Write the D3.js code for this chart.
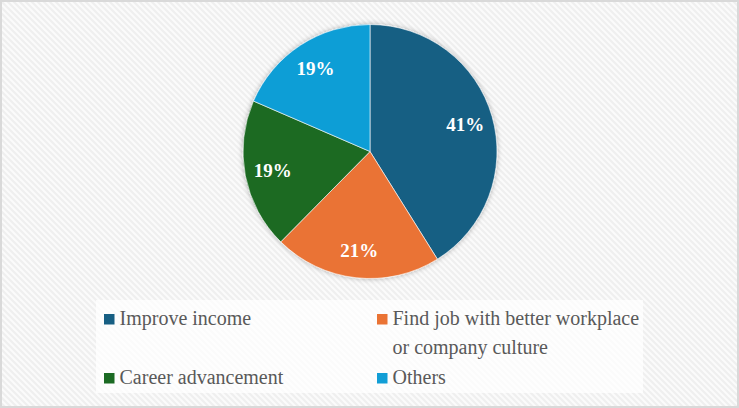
<!DOCTYPE html>
<html>
<head>
<meta charset="utf-8">
<script src="https://cdn.jsdelivr.net/npm/d3@7/dist/d3.min.js"></script>
<style>
  html, body { margin: 0; padding: 0; background: #ffffff; }
  svg { display: block; }
</style>
</head>
<body>
<svg id="chart" width="739" height="408"></svg>
<script>
// ---- data ----
const categories = ["Improve income", "Find job with better workplace or company culture", "Career advancement", "Others"];
const legendLines = [["Improve income"], ["Find job with better workplace", "or company culture"], ["Career advancement"], ["Others"]];
const values = [41.1, 21.3, 19.1, 18.5];
const labels = ["41%", "21%", "19%", "19%"];
const colors = ["#175f83", "#ea7334", "#1b6a23", "#119ed6"];

const W = 739, H = 408;
const svg = d3.select("#chart");
const defs = svg.append("defs");

// background texture
const pat = defs.append("pattern")
  .attr("id", "bgpat").attr("patternUnits", "userSpaceOnUse")
  .attr("width", 6).attr("height", 6);
pat.append("rect").attr("width", 6).attr("height", 6).attr("fill", "#fbfbfb");
pat.append("path").attr("d", "M0,0 L6,6 M-3,3 L3,9 M3,-3 L9,3")
  .attr("stroke", "#efefef").attr("stroke-width", 2);

const shadow = defs.append("filter").attr("id", "shadow")
  .attr("x", "-20%").attr("y", "-20%").attr("width", "140%").attr("height", "140%");
shadow.append("feDropShadow").attr("dx", 0).attr("dy", 0)
  .attr("stdDeviation", 2.5).attr("flood-color", "#000").attr("flood-opacity", 0.3);

svg.append("rect").attr("x", 0).attr("y", 0).attr("width", W).attr("height", H)
  .attr("fill", "url(#bgpat)");
svg.append("rect").attr("x", 1).attr("y", 1).attr("width", W - 2).attr("height", H - 2)
  .attr("fill", "none").attr("stroke", "#d9d9d9").attr("stroke-width", 2);

// ---- pie ----
const cx = 370, cy = 151.5, r = 127;
const pie = d3.pie().sort(null).value(d => d)(values);
const arc = d3.arc().innerRadius(0).outerRadius(r);
const labelArc = d3.arc().innerRadius(r * 0.78).outerRadius(r * 0.78);

const g = svg.append("g").attr("transform", `translate(${cx},${cy})`);
g.append("g").attr("filter", "url(#shadow)")
  .selectAll("path").data(pie).join("path")
  .attr("d", arc)
  .attr("fill", (d, i) => colors[i])
  .attr("stroke", "#ffffff").attr("stroke-width", 0.6);

g.selectAll("text.lbl").data(pie).join("text")
  .attr("class", "lbl")
  .attr("transform", d => `translate(${labelArc.centroid(d)})`)
  .attr("text-anchor", "middle").attr("dy", "0.35em")
  .attr("font-family", "'Liberation Serif', 'DejaVu Serif', serif")
  .attr("font-weight", "bold").attr("font-size", 19)
  .attr("fill", "#ffffff")
  .text((d, i) => labels[i]);

// ---- legend ----
svg.append("rect").attr("x", 96).attr("y", 300).attr("width", 547).attr("height", 93)
  .attr("fill", "#ffffff").attr("fill-opacity", 0.75);

const colX = [104, 377];
const rowY = [324.5, 383.5];
const lineGap = 29.5;
const legend = svg.append("g");
categories.forEach((c, i) => {
  const col = i % 2, row = Math.floor(i / 2);
  const x = colX[col], y = rowY[row];
  legend.append("rect").attr("x", x).attr("y", y - 10.5).attr("width", 10.5).attr("height", 10.5)
    .attr("fill", colors[i]);
  const t = legend.append("text")
    .attr("font-family", "'Liberation Serif', 'DejaVu Serif', serif")
    .attr("font-size", 20).attr("fill", "#595959");
  legendLines[i].forEach((ln, k) => {
    t.append("tspan").attr("x", x + 15.5).attr("y", y + k * lineGap).text(ln);
  });
});
</script>
</body>
</html>
